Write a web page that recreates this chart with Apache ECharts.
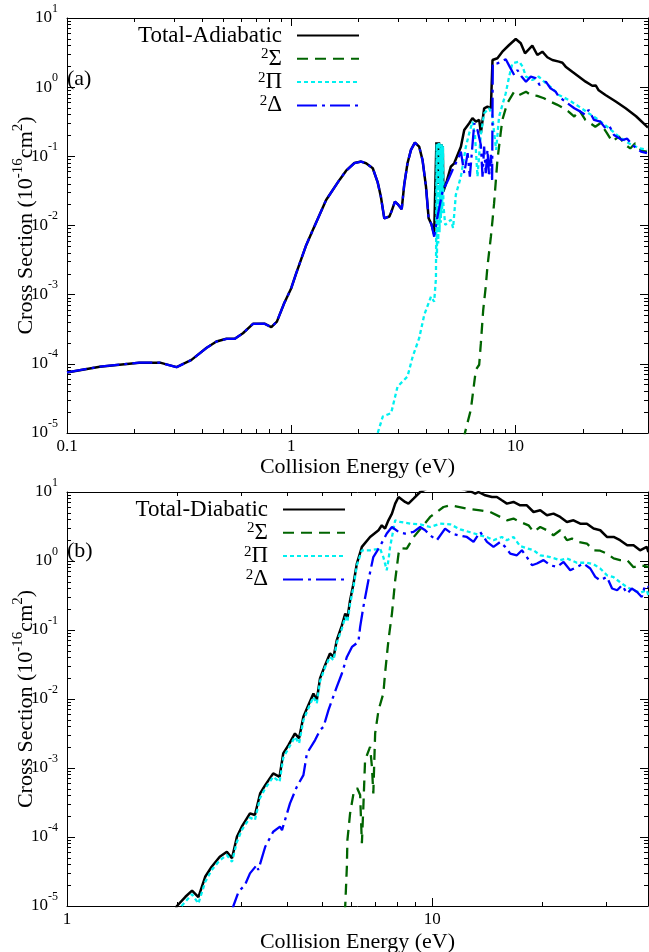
<!DOCTYPE html>
<html><head><meta charset="utf-8">
<script src="https://cdn.jsdelivr.net/npm/echarts@6/dist/echarts.min.js"></script>
<style>html,body{margin:0;padding:0;background:#fff}#c{width:649px;height:952px}</style>
</head><body><div id="c"></div>
<script>
// ---------------- DATA (energy eV, cross section 1e-16 cm^2) ----------------
const xTicksA = [0.1, 1, 10];
const xTickLabelsA = ['0.1', '1', '10'];
const xTicksB = [1, 10];
const xTickLabelsB = ['1', '10'];
const yTicks = [1e-5, 1e-4, 1e-3, 1e-2, 1e-1, 1, 10];
const yTickExponents = ['-5', '-4', '-3', '-2', '-1', '0', '1'];

// (a) adiabatic: total and 2Delta coincide below ~4.3 eV
const adiabaticShared = [
  [0.1,7.5e-5],[0.14,9.1e-5],[0.21,1.04e-4],[0.26,1.04e-4],[0.308,8.95e-5],[0.359,1.14e-4],
  [0.418,1.69e-4],[0.464,2.1e-4],[0.514,2.3e-4],[0.56,2.3e-4],[0.609,2.77e-4],[0.675,3.79e-4],
  [0.76,3.8e-4],[0.815,3.39e-4],[0.863,4.08e-4],[0.93,7.5e-4],[1.0,1.24e-3],[1.053,2.05e-3],
  [1.166,5.2e-3],[1.248,8.6e-3],[1.431,2.34e-2],[1.641,4.56e-2],[1.757,0.062],[1.913,0.08],
  [2.05,0.084],[2.157,0.0794],[2.31,0.0673],[2.43,0.042],[2.51,0.0262],[2.6,0.0127],[2.74,0.0135],
  [2.8,0.016],[2.9,0.0221],[3.0,0.02],[3.11,0.0172],[3.19,0.0386],[3.30,0.0794],[3.42,0.124],
  [3.56,0.158],[3.72,0.138],[3.85,0.0887],[3.99,0.0365],[4.10,0.0127],[4.22,0.0104]
];
const adiabaticTotalHigh = [
  [4.34,0.0075],[4.44,0.16],[4.47,0.04],[4.50,0.16],[4.53,0.04],[4.56,0.16],[4.59,0.04],
  [4.62,0.15],[4.65,0.035],[4.68,0.15],[4.71,0.035],[4.74,0.14],[4.77,0.031],[4.95,0.045],
  [5.15,0.071],[5.33,0.0794],[5.71,0.138],[5.91,0.241],[6.22,0.301],[6.43,0.356],[6.66,0.317],
  [6.89,0.336],[7.01,0.216],[7.25,0.495],[7.5,0.523],[7.77,0.495],[7.87,0.5],[7.9,2.47],
  [8.31,2.62],[8.74,3.26],[9.37,4.07],[10.03,4.97],[10.56,4.31],[11.03,3.09],[11.89,3.98],
  [12.52,2.92],[13.18,3.26],[13.87,2.71],[14.6,2.47],[15.63,2.34],[16.2,2.25],[16.74,1.98],
  [17.92,1.67],[19.0,1.45],[20.55,1.2],[22.0,1.05],[22.8,1.06],[23.5,0.9],[25.2,0.771],
  [28,0.62],[31.0,0.495],[34.5,0.38],[38.6,0.268],[39,0.262]
];
const adiabaticDeltaHigh = [
  [4.34,0.0069],[4.49,0.0135],[4.73,0.031],[5.0,0.045],[5.24,0.0635],[5.51,0.0887],[5.71,0.117],
  [5.91,0.057],[6.12,0.111],[6.26,0.0509],[6.55,0.301],[6.77,0.241],[7.01,0.146],[7.13,0.0509],
  [7.25,0.138],[7.37,0.057],[7.5,0.124],[7.63,0.0509],[7.77,0.105],[7.87,0.0456],[7.92,2.21],
  [8.31,2.21],[9.05,2.53],[9.42,1.98],[9.87,1.5],[10.2,1.77],[10.6,1.45],[11.14,1.2],[11.7,1.42],
  [12.3,1.35],[12.8,1.08],[13.66,1.2],[14.32,0.964],[15.1,0.861],[15.6,0.729],[16.7,0.617],
  [18.3,0.495],[19.5,0.443],[20.5,0.396],[21.2,0.469],[22.4,0.336],[23.9,0.317],[25.2,0.255],
  [26.3,0.27],[27.5,0.204],[29.9,0.172],[31.5,0.18],[33.2,0.146],[36.3,0.117],[38.6,0.111]
];
const adiabaticPi = [
  [2.40,8e-6],[2.43,1e-5],[2.56,1.73e-5],[2.79,1.94e-5],[2.98,4.7e-5],[3.30,6.56e-5],[3.48,1.27e-4],
  [3.72,2.35e-4],[3.92,5.1e-4],[4.20,9.4e-4],[4.34,7.9e-4],[4.42,1.73e-3],[4.45,0.15],[4.465,3.4e-3],
  [4.51,0.16],[4.525,5.5e-3],[4.57,0.16],[4.585,8e-3],[4.63,0.15],[4.645,0.011],[4.69,0.15],[4.705,0.015],
  [4.75,0.14],[4.77,0.02],[4.86,0.0102],[5.15,0.0121],[5.27,0.0092],[5.42,0.0277],[5.71,0.0509],
  [6.01,0.138],[6.22,0.216],[6.43,0.317],[6.6,0.2],[6.77,0.0509],[7.0,0.2],[7.25,0.42],[7.63,0.495],
  [7.87,0.396],[8.2,0.124],[8.45,0.375],[9.05,0.817],[9.37,1.42],[9.69,2.21],[10.4,2.34],[10.76,1.98],
  [11.14,1.42],[11.9,1.27],[12.7,1.42],[13.66,1.14],[14.6,0.964],[15.6,0.771],[17.3,0.653],
  [19.2,0.523],[21.2,0.42],[23.5,0.336],[26.1,0.255],[28.9,0.193],[32.0,0.155],[35.6,0.131],[38.6,0.124]
];
const adiabaticSigma = [
  [5.9,8e-6],[5.95,1e-5],[6.32,2.16e-5],[6.66,8.2e-5],[6.89,9.7e-5],[7.01,1.99e-4],[7.18,6.0e-4],
  [7.37,1.31e-3],[7.5,2.55e-3],[7.77,6.9e-3],[7.89,0.0114],[8.03,0.021],[8.31,0.0887],[8.59,0.216],
  [8.74,0.336],[9.19,0.585],[9.87,0.861],[10.4,0.771],[11.14,0.861],[11.7,0.771],[12.5,0.75],
  [13.4,0.691],[14.3,0.617],[15.3,0.56],[16.4,0.495],[17.3,0.44],[18.3,0.375],[19.2,0.469],
  [20.5,0.336],[22.7,0.268],[23.9,0.301],[25.5,0.22],[27.0,0.163],[28.9,0.193],[31.0,0.146],
  [32.5,0.13],[34.2,0.155],[36.5,0.12],[38.6,0.117]
];

// (b) diabatic
const diabaticTotal = [
  [1.97,8e-6],[2.0,1.0e-5],[2.02,1.03e-5],[2.11,1.36e-5],[2.20,1.67e-5],[2.29,1.34e-5],[2.39,2.65e-5],
  [2.49,3.71e-5],[2.62,5.18e-5],[2.74,6.11e-5],[2.83,4.91e-5],[2.92,1.01e-4],[3.01,1.41e-4],[3.17,2.2e-4],
  [3.27,2.08e-4],[3.38,4.28e-4],[3.49,5.65e-4],[3.67,8.36e-4],[3.82,7.46e-4],[3.91,1.63e-3],[4.04,2.15e-3],
  [4.21,3.17e-3],[4.32,2.69e-3],[4.44,5.52e-3],[4.58,8.15e-3],[4.73,0.012],[4.83,9.6e-3],[4.93,0.0199],
  [5.09,0.0309],[5.25,0.0457],[5.37,0.0407],[5.48,0.0711],[5.66,0.117],[5.78,0.173],[5.86,0.147],
  [5.96,0.27],[6.09,0.471],[6.22,0.919],[6.42,1.6],[6.76,2.23],[7.13,2.79],[7.28,3.29],[7.43,2.95],
  [7.59,3.89],[7.76,4.86],[7.92,6.79],[8.09,8.47],[8.17,8.02],[8.43,7.17],[8.61,6.79],[8.89,8.02],
  [9.27,10.0],[9.8,11.5],[10.5,12.2],[11.5,11.8],[12.3,10.8],[12.85,10.0],[13.12,9.48],[13.39,10.0],
  [13.97,8.96],[14.58,8.47],[15.04,8.47],[15.52,7.58],[16.02,6.79],[16.7,7.17],[17.42,6.42],[18.17,6.42],
  [18.95,5.13],[19.77,5.43],[20.62,4.6],[21.49,4.86],[22.42,4.35],[23.39,3.68],[24.38,3.89],[25.44,3.48],
  [26.53,3.48],[27.67,2.95],[28.86,2.79],[30.1,2.23],[31.4,2.23],[32.7,2.0],[34.2,1.69],[35.6,1.69],
  [37.1,1.43],[38.7,1.6],[39.1,1.35]
];
const diabaticPi = [
  [2.03,8e-6],[2.06,1e-5],[2.20,1.48e-5],[2.29,1.09e-5],[2.39,2.23e-5],[2.49,3.32e-5],[2.62,4.6e-5],
  [2.74,5.48e-5],[2.83,4.38e-5],[2.92,8.5e-5],[3.01,1.26e-4],[3.17,1.91e-4],[3.27,1.76e-4],[3.38,3.7e-4],
  [3.49,5.07e-4],[3.67,7.46e-4],[3.82,6.3e-4],[3.91,1.4e-3],[4.04,1.92e-3],[4.21,2.83e-3],[4.32,2.27e-3],
  [4.44,4.9e-3],[4.58,7.3e-3],[4.73,0.0107],[4.83,8.6e-3],[4.93,0.018],[5.09,0.0289],[5.25,0.0407],
  [5.37,0.0366],[5.48,0.065],[5.66,0.105],[5.78,0.155],[5.86,0.131],[5.96,0.24],[6.09,0.42],[6.22,0.868],
  [6.42,1.43],[6.76,1.43],[7.2,1.51],[7.35,1.14],[7.51,0.735],[7.59,1.03],[7.67,1.6],[7.92,3.89],
  [8.17,3.68],[8.71,3.48],[9.27,3.4],[9.87,3.11],[10.52,3.48],[11.2,3.4],[11.93,2.88],[12.71,2.61],
  [13.54,2.36],[14.15,2.21],[14.72,2.0],[15.52,2.23],[16.02,2.0],[16.7,2.23],[17.42,1.64],[18.95,1.43],
  [19.77,1.21],[21.04,1.14],[22.42,1.03],[23.39,1.09],[24.91,0.943],[26.53,0.943],[27.67,0.897],
  [28.86,0.778],[30.1,0.622],[31.4,0.582],[32.7,0.492],[34.2,0.417],[35.6,0.377],[37.1,0.347],
  [38.7,0.377],[39.1,0.319]
];
const diabaticDelta = [
  [2.83,8e-6],[2.855,1e-5],[2.95,1.61e-5],[3.07,2.01e-5],[3.17,2.97e-5],[3.31,3.93e-5],[3.34,3.32e-5],
  [3.49,7.23e-5],[3.67,1.19e-4],[3.83,1.41e-4],[3.88,1.26e-4],[4.08,3.07e-4],[4.26,5.35e-4],[4.44,7.89e-4],
  [4.54,1.63e-3],[4.78,2.54e-3],[4.93,3.54e-3],[5.04,3.95e-3],[5.20,6.9e-3],[5.48,0.015],[5.66,0.0234],
  [5.84,0.0407],[6.03,0.0569],[6.28,0.0673],[6.35,0.111],[6.48,0.216],[6.69,0.526],[6.90,1.14],
  [7.20,1.64],[7.51,2.5],[7.76,3.11],[8.09,2.64],[8.43,2.5],[8.89,2.64],[9.27,3.11],[9.57,2.79],
  [9.87,2.36],[10.30,2.0],[10.85,2.95],[11.32,2.5],[11.80,2.36],[12.45,2.23],[12.98,1.89],[13.54,2.64],
  [14.13,1.89],[14.72,1.6],[15.36,1.89],[15.85,1.6],[16.36,1.28],[17.06,1.21],[17.61,1.43],[18.17,1.14],
  [18.77,0.868],[19.36,0.919],[20.18,1.03],[21.04,0.868],[21.96,0.82],[22.9,0.969],[23.88,0.735],
  [24.91,0.82],[25.98,0.919],[27.1,0.778],[27.97,0.588],[28.86,0.526],[30.1,0.588],[31.1,0.399],
  [32.1,0.377],[33.1,0.446],[34.2,0.338],[35.2,0.399],[36.4,0.356],[37.5,0.301],[38.3,0.446],[39.1,0.42]
];
const diabaticSigma = [
  [5.76,8e-6],[5.78,1e-5],[5.84,3.71e-5],[5.86,9.0e-5],[5.96,2.2e-4],[6.09,4.28e-4],[6.23,5.12e-4],
  [6.35,4.06e-4],[6.42,8.1e-5],[6.48,2.74e-4],[6.55,1.3e-3],[6.76,2.03e-3],[6.84,1.04e-3],[6.90,4.28e-4],
  [6.98,3.17e-3],[7.13,6.9e-3],[7.35,0.012],[7.43,0.0234],[7.59,0.0711],[7.76,0.173],[7.92,0.526],
  [8.09,1.28],[8.17,1.53],[8.52,1.51],[8.89,2.21],[9.27,2.88],[9.87,4.35],[10.74,6.06],[11.2,6.42],
  [12.45,5.75],[13.54,5.43],[14.42,5.13],[15.36,4.35],[16.02,3.89],[16.7,4.12],[17.42,3.68],[18.36,3.29],
  [18.95,2.64],[19.77,3.11],[20.62,2.79],[21.49,2.36],[22.42,2.79],[23.39,2.0],[24.14,2.11],[25.17,1.89],
  [26.53,1.79],[27.67,1.43],[28.86,1.41],[30.1,1.28],[31.4,1.09],[32.7,1.03],[34.2,1.03],[35.6,0.812],
  [37.1,0.868],[39.1,0.82]
];

// ---------------- CHART ----------------
const FONT = '"Liberation Serif", "Times New Roman", serif';
const chart = echarts.init(document.getElementById('c'), null, {renderer: 'canvas'});
const L = Math.log10;
const AXC = '#000';

function minorTicks(lo, hi) {
  const out = [];
  for (let n = Math.floor(L(lo)); n <= Math.ceil(L(hi)); n++) {
    for (let k = 2; k <= 9; k++) {
      const v = k * Math.pow(10, n);
      if (v > lo * 1.0001 && v < hi * 0.9999) out.push(L(v));
    }
  }
  return out;
}

const panels = [
  {top: 18, height: 415, xmin: 0.1, xmax: 39, xTicks: xTicksA, xLabels: xTickLabelsA, nameGapX: 34,
   legendTop: 23.5, legendRight: 289, totalName: 'Total-Adiabatic',
   series: [adiabaticShared.concat(adiabaticTotalHigh), adiabaticSigma, adiabaticPi, adiabaticShared.concat(adiabaticDeltaHigh)]},
  {top: 492, height: 414, xmin: 1, xmax: 39, xTicks: xTicksB, xLabels: xTickLabelsB, nameGapX: 36,
   legendTop: 497.5, legendRight: 303, totalName: 'Total-Diabatic',
   series: [diabaticTotal, diabaticSigma, diabaticPi, diabaticDelta]}
];
const ymin = 1e-5, ymax = 10;

const styles = [
  {color: '#000000', width: 2.5, type: 'solid'},
  {color: '#006400', width: 2.3, type: [11, 7]},
  {color: '#00f0f0', width: 2.3, type: [4, 3]},
  {color: '#0000ff', width: 2.3, type: [20, 5, 3, 5]}
];
const compNames = ['²Σ', '²Π', '²Δ'];

const grid = [], xAxis = [], yAxis = [], series = [], legend = [];
const tickLine = {color: AXC, width: 1};

panels.forEach((p, gi) => {
  grid.push({left: 67, top: p.top, width: 581, height: p.height, containLabel: false, outerBoundsMode: 'none'});
  const xmaj = p.xTicks.map(L), xmin2 = minorTicks(p.xmin, p.xmax);
  const ymaj = yTicks.map(L), ymin2 = minorTicks(ymin, ymax);
  const xr = {min: L(p.xmin), max: L(p.xmax)}, yr = {min: L(ymin), max: L(ymax)};
  // data axes (log)
  xAxis.push({type: 'log', gridIndex: gi, min: p.xmin, max: p.xmax, show: false, logBase: 10});
  yAxis.push({type: 'log', gridIndex: gi, min: ymin, max: ymax, show: false, logBase: 10});
  // decoration axes
  const common = {type: 'value', gridIndex: gi, splitLine: {show: false}, silent: true};
  xAxis.push(Object.assign({}, common, xr, {
    position: 'bottom',
    axisLine: {show: true, onZero: false, lineStyle: tickLine},
    axisTick: {show: true, inside: true, length: 8, customValues: xmaj, lineStyle: tickLine},
    axisLabel: {show: true, customValues: xmaj, margin: 5, color: '#000', fontSize: 17, fontFamily: FONT,
      formatter: v => { const i = xmaj.findIndex(t => Math.abs(t - v) < 1e-6); return i >= 0 ? p.xLabels[i] : ''; }},
    name: 'Collision Energy (eV)', nameLocation: 'middle', nameGap: p.nameGapX,
    nameTextStyle: {fontSize: 22, fontFamily: FONT, color: '#000', verticalAlign: 'middle'}
  }));
  xAxis.push(Object.assign({}, common, xr, {position: 'bottom', axisLine: {show: false, onZero: false},
    axisTick: {show: true, inside: true, length: 4, customValues: xmin2, lineStyle: tickLine}, axisLabel: {show: false}}));
  xAxis.push(Object.assign({}, common, xr, {position: 'top', axisLine: {show: true, onZero: false, lineStyle: tickLine},
    axisTick: {show: true, inside: true, length: 8, customValues: xmaj, lineStyle: tickLine}, axisLabel: {show: false}}));
  xAxis.push(Object.assign({}, common, xr, {position: 'top', axisLine: {show: false, onZero: false},
    axisTick: {show: true, inside: true, length: 4, customValues: xmin2, lineStyle: tickLine}, axisLabel: {show: false}}));

  yAxis.push(Object.assign({}, common, yr, {
    position: 'left',
    axisLine: {show: true, onZero: false, lineStyle: tickLine},
    axisTick: {show: true, inside: true, length: 8, customValues: ymaj, lineStyle: tickLine},
    axisLabel: {show: true, customValues: ymaj, margin: 9, color: '#000', fontFamily: FONT,
      formatter: v => { const i = ymaj.findIndex(t => Math.abs(t - v) < 1e-6); return i >= 0 ? '{b|10}{s|' + yTickExponents[i] + '}' : ''; },
      rich: {b: {fontSize: 17, lineHeight: 31, fontFamily: FONT, color: '#000'},
             s: {fontSize: 12, lineHeight: 11, fontFamily: FONT, color: '#000', verticalAlign: 'top'}}},
    name: '{n|Cross Section (10}{s|-16}{n|cm}{s|2}{n|)}', nameLocation: 'middle', nameRotate: 90, nameGap: 41,
    nameMoveOverlap: false,
    nameTextStyle: {verticalAlign: 'middle', rich: {
      n: {fontSize: 22, lineHeight: 30, fontFamily: FONT, color: '#000'},
      s: {fontSize: 15, lineHeight: 14, fontFamily: FONT, color: '#000', verticalAlign: 'top'}}}
  }));
  yAxis.push(Object.assign({}, common, yr, {position: 'left', axisLine: {show: false, onZero: false},
    axisTick: {show: true, inside: true, length: 4, customValues: ymin2, lineStyle: tickLine}, axisLabel: {show: false}}));
  yAxis.push(Object.assign({}, common, yr, {position: 'right', axisLine: {show: true, onZero: false, lineStyle: tickLine},
    axisTick: {show: true, inside: true, length: 8, customValues: ymaj, lineStyle: tickLine}, axisLabel: {show: false}}));
  yAxis.push(Object.assign({}, common, yr, {position: 'right', axisLine: {show: false, onZero: false},
    axisTick: {show: true, inside: true, length: 4, customValues: ymin2, lineStyle: tickLine}, axisLabel: {show: false}}));

  const names = [p.totalName].concat(compNames);
  p.series.forEach((d, si) => {
    const st = styles[si];
    series.push({
      type: 'line', name: names[si], xAxisIndex: gi * 5, yAxisIndex: gi * 5, data: d,
      showSymbol: false, symbol: 'none', clip: true, animation: false, z: 2 + si,
      lineStyle: {color: st.color, width: st.width, type: st.type},
      itemStyle: {color: st.color}
    });
  });
  legend.push({
    data: names, orient: 'vertical', align: 'right', right: p.legendRight, top: p.legendTop,
    itemWidth: 62, itemHeight: 10, itemGap: -0.7, padding: 0, selectedMode: false,
    itemStyle: {color: 'rgba(0,0,0,0)', borderColor: 'rgba(0,0,0,0)', borderWidth: 0, opacity: 0},
    formatter: n => n.startsWith('²') ? '{s|2}{n|' + n.slice(1) + '}' : '{n|' + n + '}',
    textStyle: {fontSize: 23, fontFamily: FONT, color: '#000', lineHeight: 24, rich: {
      n: {fontSize: 23, lineHeight: 24, fontFamily: FONT, color: '#000', padding: [0, 10, 0, 0]},
      s: {fontSize: 15, lineHeight: 10, fontFamily: FONT, color: '#000', verticalAlign: 'top'}}}
  });
});

chart.setOption({
  animation: false,
  backgroundColor: '#fff',
  grid, xAxis, yAxis, series, legend,
  graphic: [
    {type: 'text', left: 67, top: 68, style: {text: '(a)', font: '22px "Liberation Serif", serif', fill: '#000'}},
    {type: 'text', left: 67, top: 540, style: {text: '(b)', font: '22px "Liberation Serif", serif', fill: '#000'}}
  ]
});
</script>
</body></html>
